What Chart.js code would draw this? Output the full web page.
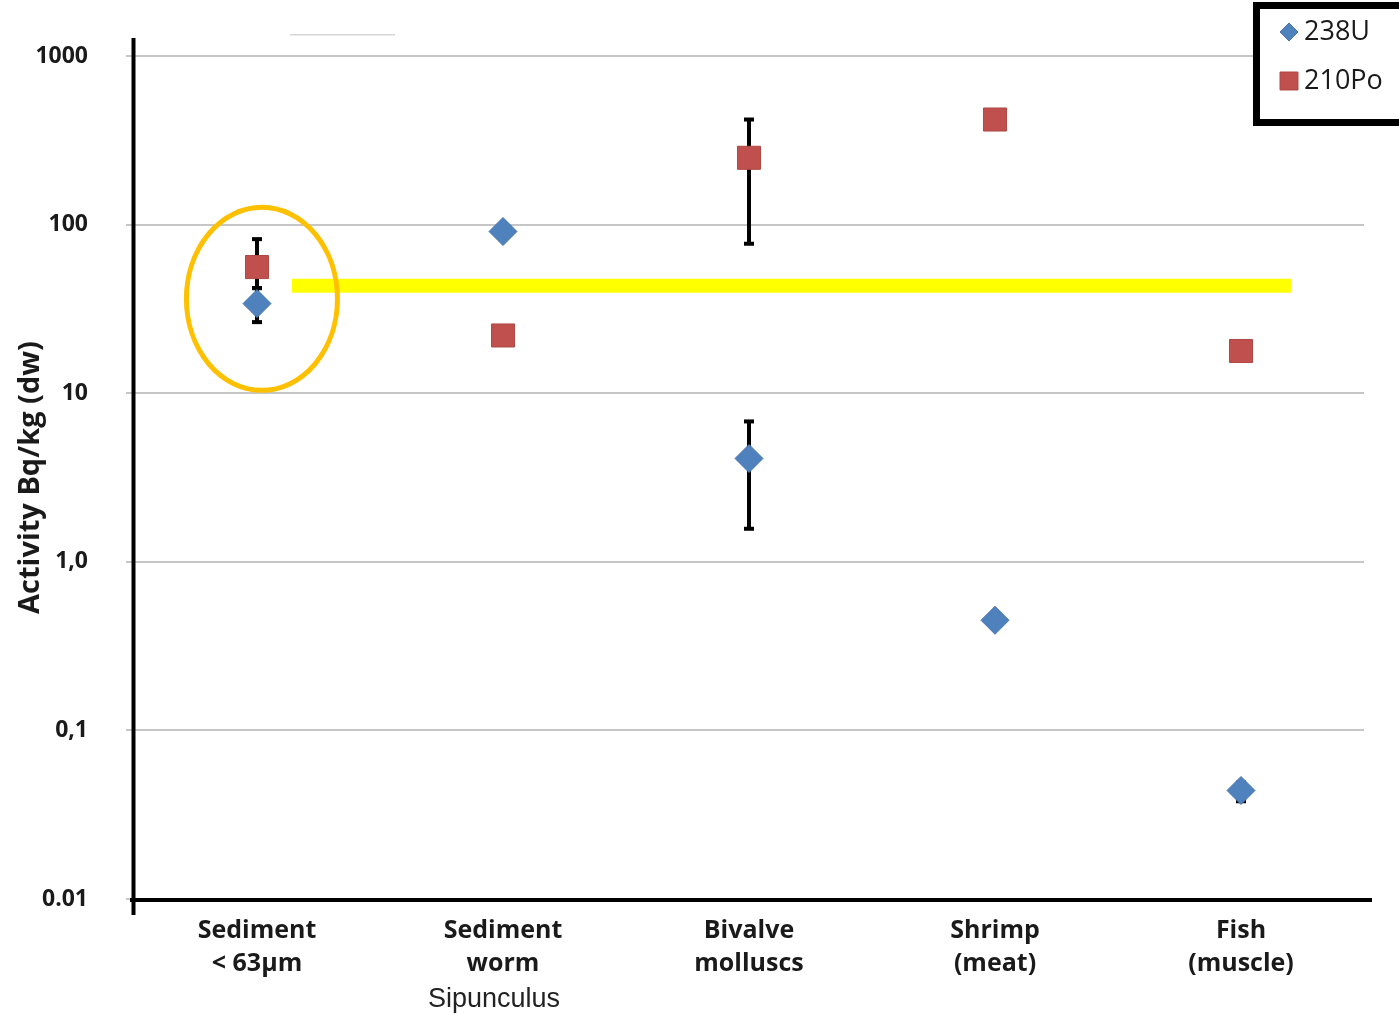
<!DOCTYPE html>
<html>
<head>
<meta charset="utf-8">
<script src="https://cdn.jsdelivr.net/npm/chart.js@4.4.1/dist/chart.umd.min.js"></script>
<style>
  html, body { margin: 0; padding: 0; background: #fff; }
  canvas { display: block; }
</style>
</head>
<body>
<canvas id="c" width="1399" height="1015"></canvas>
<script>
// Sample groups and their activity values (Bq/kg dry weight)
const categories = [['Sediment', '< 63µm'], ['Sediment', 'worm'], ['Bivalve', 'molluscs'], ['Shrimp', '(meat)'], ['Fish', '(muscle)']];
const taxonNames = ['', 'Sipunculus', '', '', ''];
const seriesNames = ['238U', '210Po'];

const u238 = [34, 91, 4.1, 0.45, 0.044];
const u238Low = [26.4, null, 1.57, null, 0.038];
const u238High = [42, null, 6.8, null, 0.049];

const po210 = [56, 22, 249, 420, 17.8];
const po210Low = [42, null, 77, null, null];
const po210High = [82, null, 420, null, null];

const yTickValues = [0.01, 0.1, 1, 10, 100, 1000];
const yTickLabels = ['0.01', '0,1', '1,0', '10', '100', '1000'];

// Highlighted reference level across the groups, and the circled sediment sample
const refLevel = 43.4;
const refFrom = 0.142, refTo = 4.203;
const ringCenterX = 0.02, ringCenterY = 36.3;
const ringRadiusX = 0.307;   // in category widths
const ringRadiusDecades = 0.543;
// short faint rule above the plot
const headRuleLevel = 1336, headRuleFrom = 0.134, headRuleTo = 0.561;

const BLUE = '#4F81BD';
const RED = '#C0504D';

const errorBars = {
  id: 'errorBars',
  beforeDatasetsDraw(chart) {
    const { ctx, scales: { x, y } } = chart;
    const sets = [[u238Low, u238High], [po210Low, po210High]];
    ctx.save();
    ctx.strokeStyle = '#000';
    ctx.fillStyle = '#000';
    ctx.lineWidth = 4;
    sets.forEach(([lo, hi]) => {
      lo.forEach((l, i) => {
        if (l == null || hi[i] == null) return;
        const px = x.getPixelForValue(i);
        const y1 = y.getPixelForValue(l);
        const y2 = y.getPixelForValue(hi[i]);
        ctx.beginPath();
        ctx.moveTo(px, y1);
        ctx.lineTo(px, y2);
        ctx.stroke();
        ctx.fillRect(px - 5, y1 - 2, 10, 4);
        ctx.fillRect(px - 5, y2 - 2, 10, 4);
      });
    });
    ctx.restore();
  }
};

const overlays = {
  id: 'overlays',
  afterDatasetsDraw(chart) {
    const { ctx, chartArea: a, scales: { x, y } } = chart;
    ctx.save();
    // axis lines
    ctx.strokeStyle = '#000';
    ctx.lineWidth = 4;
    ctx.beginPath();
    ctx.moveTo(a.left - 0.5, a.top - 18);
    ctx.lineTo(a.left - 0.5, a.bottom + 16);
    ctx.stroke();
    ctx.beginPath();
    ctx.moveTo(a.left - 4, a.bottom + 1);
    ctx.lineTo(a.right + 8, a.bottom + 1);
    ctx.stroke();

    // faint rule above the plot
    ctx.strokeStyle = '#d6d6d6';
    ctx.lineWidth = 1.5;
    ctx.beginPath();
    ctx.moveTo(x.getPixelForValue(headRuleFrom), y.getPixelForValue(headRuleLevel));
    ctx.lineTo(x.getPixelForValue(headRuleTo), y.getPixelForValue(headRuleLevel));
    ctx.stroke();

    // yellow reference band
    ctx.strokeStyle = '#FFFF00';
    ctx.lineWidth = 14;
    ctx.beginPath();
    ctx.moveTo(x.getPixelForValue(refFrom), y.getPixelForValue(refLevel));
    ctx.lineTo(x.getPixelForValue(refTo), y.getPixelForValue(refLevel));
    ctx.stroke();

    // orange ring around the sediment sample
    const cx = x.getPixelForValue(ringCenterX);
    const cy = y.getPixelForValue(ringCenterY);
    const rx = x.getPixelForValue(ringRadiusX) - x.getPixelForValue(0);
    const ry = y.getPixelForValue(ringCenterY) - y.getPixelForValue(ringCenterY * Math.pow(10, ringRadiusDecades));
    ctx.strokeStyle = '#FFC000';
    ctx.lineWidth = 5;
    ctx.beginPath();
    ctx.ellipse(cx, cy, rx, ry, 0, 0, Math.PI * 2);
    ctx.stroke();
    ctx.restore();
  },
  afterDraw(chart) {
    const { ctx, chartArea: a, scales: { x } } = chart;
    ctx.save();
    // species name under the group label
    ctx.fillStyle = '#222';
    ctx.font = '27px "Liberation Sans", Arial, sans-serif';
    ctx.textAlign = 'center';
    ctx.textBaseline = 'middle';
    taxonNames.forEach((t, i) => {
      if (t) ctx.fillText(t, x.getPixelForValue(i) - 9, a.bottom + 101);
    });

    // legend box
    ctx.fillStyle = '#fff';
    ctx.fillRect(1256, 5, 150, 118);
    ctx.strokeStyle = '#000';
    ctx.lineWidth = 7;
    ctx.strokeRect(1256.5, 5.5, 160, 117);
    const ds = chart.data.datasets;
    const rows = [32, 81];
    const markerR = [9, 12.7];
    ctx.font = '27px "Open Sans", sans-serif';
    ctx.textAlign = 'left';
    ctx.textBaseline = 'middle';
    ds.forEach((d, i) => {
      ctx.fillStyle = d.backgroundColor;
      ctx.strokeStyle = d.borderColor;
      ctx.lineWidth = 1;
      Chart.helpers.drawPoint(ctx, { pointStyle: d.pointStyle, radius: markerR[i], borderWidth: 1 }, 1289, rows[i]);
      ctx.fillStyle = '#1a1a1a';
      ctx.fillText(seriesNames[i], 1304, rows[i]);
    });
    ctx.restore();
  }
};

new Chart(document.getElementById('c'), {
  type: 'line',
  data: {
    labels: categories,
    datasets: [
      {
        label: seriesNames[0],
        data: u238,
        showLine: false,
        pointStyle: 'rectRot',
        pointRadius: 14,
        pointHoverRadius: 14,
        backgroundColor: BLUE,
        borderColor: '#4575b0',
        borderWidth: 1
      },
      {
        label: seriesNames[1],
        data: po210,
        showLine: false,
        pointStyle: 'rect',
        pointRadius: 16.3,
        pointHoverRadius: 16.3,
        backgroundColor: RED,
        borderColor: '#b04845',
        borderWidth: 1
      }
    ]
  },
  options: {
    responsive: false,
    devicePixelRatio: 1,
    animation: false,
    events: [],
    layout: { padding: { top: 56, right: 35, left: 0, bottom: 0 } },
    plugins: {
      legend: { display: false },
      tooltip: { enabled: false }
    },
    scales: {
      x: {
        type: 'category',
        offset: true,
        grid: { display: false, drawTicks: false },
        border: { display: false },
        ticks: {
          maxRotation: 0,
          autoSkip: false,
          padding: 16,
          color: '#1a1a1a',
          font: { family: '"Open Sans", sans-serif', size: 25, weight: 'bold', lineHeight: 1.3 }
        },
        afterFit(scale) { scale.height = 116; }
      },
      y: {
        type: 'logarithmic',
        min: 0.01,
        max: 1000,
        afterBuildTicks(scale) { scale.ticks = yTickValues.map(v => ({ value: v })); },
        grid: { color: '#c6c6c6', lineWidth: 2, tickLength: 8, tickColor: '#c6c6c6', drawTicks: true },
        border: { display: false },
        ticks: {
          padding: 38,
          color: '#1a1a1a',
          font: { family: '"Open Sans", sans-serif', size: 23, weight: 'bold' },
          callback: (v, i) => yTickLabels[i]
        },
        title: {
          display: true,
          text: 'Activity Bq/kg (dw)',
          color: '#1a1a1a',
          padding: { top: 13, bottom: 0 },
          font: { family: '"Open Sans", sans-serif', size: 29, weight: 'bold' }
        },
        afterFit(scale) { scale.width = 134; }
      }
    }
  },
  plugins: [errorBars, overlays]
});
</script>
</body>
</html>
